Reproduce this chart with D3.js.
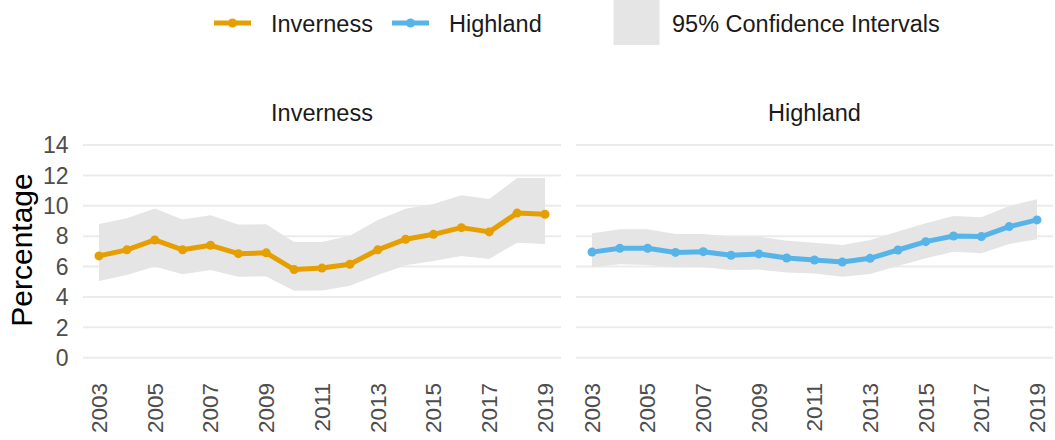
<!DOCTYPE html>
<html>
<head>
<meta charset="utf-8">
<script src="https://cdn.jsdelivr.net/npm/d3@7"></script>
<style>
  html, body { margin: 0; padding: 0; background: #ffffff; }
  svg { display: block; font-family: "Liberation Sans", Arial, sans-serif; }
</style>
</head>
<body>
<svg id="chart" width="1055" height="440"></svg>
<script>
// ---- data ----
const years = [2003,2004,2005,2006,2007,2008,2009,2010,2011,2012,2013,2014,2015,2016,2017,2018,2019];
const invernessValue = [6.7,7.1,7.75,7.1,7.4,6.85,6.9,5.8,5.9,6.15,7.1,7.8,8.12,8.56,8.28,9.52,9.44];
const invernessLower = [5.05,5.45,6.0,5.5,5.77,5.33,5.35,4.4,4.42,4.73,5.44,6.08,6.37,6.7,6.5,7.57,7.48];
const invernessUpper = [8.8,9.18,9.82,9.1,9.37,8.76,8.78,7.62,7.62,8.03,9.07,9.8,10.12,10.7,10.45,11.82,11.82];
const highlandValue = [6.95,7.2,7.2,6.93,6.98,6.74,6.83,6.56,6.43,6.3,6.54,7.09,7.64,8.01,7.97,8.63,9.07];
const highlandLower = [5.95,6.15,6.1,5.93,5.95,5.77,5.8,5.6,5.55,5.33,5.51,6.04,6.54,6.98,6.87,7.49,7.79];
const highlandUpper = [8.19,8.45,8.45,8.14,8.14,7.97,7.97,7.7,7.57,7.42,7.75,8.3,8.85,9.33,9.24,9.99,10.43];
const yTicks = [0,2,4,6,8,10,12,14];
const xTickLabels = [2003,2005,2007,2009,2011,2013,2015,2017,2019];
const panelNames = ["Inverness","Highland"];
const seriesColors = ["#E69F00","#56B4E9"];
const ciLabel = "95% Confidence Intervals";
const yTitle = "Percentage";

const panels = [
  {name: panelNames[0], color: seriesColors[0], value: invernessValue, lower: invernessLower, upper: invernessUpper, x0: 83, x1: 561},
  {name: panelNames[1], color: seriesColors[1], value: highlandValue, lower: highlandLower, upper: highlandUpper, x0: 576, x1: 1053}
];

const svg = d3.select("#chart");
const y = d3.scaleLinear().domain([0,14]).range([357.7,145]);

const gridColor = "#ebebeb";
const ciColor = "#e5e5e5";
const tickColor = "#4d4d4d";
const textColor = "#1a1a1a";

panels.forEach((p, i) => {
  const x = d3.scaleLinear().domain([2003,2019]).range([p.x0 + 16, p.x1 - 16]);
  const g = svg.append("g");

  // gridlines
  g.selectAll("line.grid").data(yTicks).enter().append("line")
    .attr("x1", p.x0).attr("x2", p.x1)
    .attr("y1", d => y(d)).attr("y2", d => y(d))
    .attr("stroke", gridColor).attr("stroke-width", 2);

  const rows = years.map((yr, k) => ({yr, v: p.value[k], lo: p.lower[k], hi: p.upper[k]}));

  // CI ribbon
  g.append("path").datum(rows)
    .attr("d", d3.area().x(d => x(d.yr)).y0(d => y(d.lo)).y1(d => y(d.hi)))
    .attr("fill", ciColor);

  // line
  g.append("path").datum(rows)
    .attr("d", d3.line().x(d => x(d.yr)).y(d => y(d.v)))
    .attr("fill", "none").attr("stroke", p.color)
    .attr("stroke-width", 5).attr("stroke-linejoin", "round");

  // points
  g.selectAll("circle").data(rows).enter().append("circle")
    .attr("cx", d => x(d.yr)).attr("cy", d => y(d.v))
    .attr("r", 4.5).attr("fill", p.color);

  // strip title
  g.append("text")
    .attr("x", (p.x0 + p.x1) / 2).attr("y", 121)
    .attr("text-anchor", "middle")
    .attr("font-size", 23.5).attr("fill", textColor)
    .text(p.name);

  // x tick labels (rotated)
  g.selectAll("text.xt").data(xTickLabels).enter().append("text")
    .attr("class", "xt")
    .attr("transform", d => `translate(${x(d) + 7.8},383) rotate(-90)`)
    .attr("text-anchor", "end")
    .attr("font-size", 22.5).attr("fill", tickColor)
    .text(d => d);

  // y tick labels (left panel only)
  if (i === 0) {
    g.selectAll("text.yt").data(yTicks).enter().append("text")
      .attr("class", "yt")
      .attr("x", 68.5).attr("y", d => y(d) + 8.2)
      .attr("text-anchor", "end")
      .attr("font-size", 23).attr("fill", tickColor)
      .text(d => d);
  }
});

// y axis title
svg.append("text")
  .attr("transform", "translate(32,250) rotate(-90)")
  .attr("text-anchor", "middle")
  .attr("font-size", 30).attr("fill", "#000")
  .text(yTitle);

// legend
const legend = svg.append("g");
const legendItems = [
  {name: panelNames[0], color: seriesColors[0], lx: 214, tx: 271},
  {name: panelNames[1], color: seriesColors[1], lx: 392, tx: 449}
];
legendItems.forEach(it => {
  legend.append("line")
    .attr("x1", it.lx).attr("x2", it.lx + 37)
    .attr("y1", 23).attr("y2", 23)
    .attr("stroke", it.color).attr("stroke-width", 5);
  legend.append("circle")
    .attr("cx", it.lx + 18.5).attr("cy", 23).attr("r", 4.5)
    .attr("fill", it.color);
  legend.append("text")
    .attr("x", it.tx).attr("y", 31.5)
    .attr("font-size", 23.5).attr("fill", textColor)
    .text(it.name);
});
legend.append("rect")
  .attr("x", 613.5).attr("y", 0).attr("width", 46).attr("height", 45)
  .attr("fill", ciColor);
legend.append("text")
  .attr("x", 672).attr("y", 31.5)
  .attr("font-size", 23.5).attr("fill", textColor)
  .text(ciLabel);
</script>
</body>
</html>
